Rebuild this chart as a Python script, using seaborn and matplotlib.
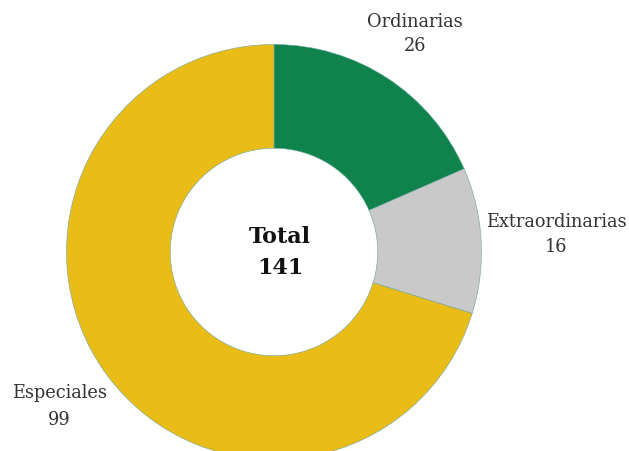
import matplotlib
matplotlib.use("Agg")
import matplotlib.pyplot as plt
import seaborn as sns

categories = ["Ordinarias", "Extraordinarias", "Especiales"]
values = [26, 16, 99]
colors = ["#0f834b", "#c9c9c9", "#e9bc18"]
total_label = "Total"

sns.set_theme(style="white")
plt.rcParams["font.family"] = ["DejaVu Serif"]

fig = plt.figure(figsize=(6.29, 4.52), dpi=100)
ax = fig.add_axes([0, 0, 1, 1])

wedges, _ = ax.pie(
    values,
    colors=colors,
    startangle=90,
    counterclock=False,
    radius=1.0,
    wedgeprops=dict(width=0.5, edgecolor="#6aa6a0", linewidth=0.4),
)

ax.set_xlim(-1.3205, 1.711)
ax.set_ylim(-0.959, 1.219)
ax.set_aspect("auto")
ax.axis("off")

total = sum(values)
ax.text(0.029, 0.077, total_label, ha="center", va="center",
        fontsize=16, fontweight="bold", color="#111111")
ax.text(0.029, -0.072, str(total), ha="center", va="center",
        fontsize=16, fontweight="bold", color="#111111")

# (x, y of name line, y of value line)
label_pos = [(0.680, 1.113, 0.995), (1.360, 0.149, 0.031), (-1.034, -0.675, -0.803)]
for name, val, (lx, ly1, ly2) in zip(categories, values, label_pos):
    ax.text(lx, ly1, name, ha="center", va="center", fontsize=12.8, color="#333333")
    ax.text(lx, ly2, str(val), ha="center", va="center", fontsize=12.8, color="#333333")

fig.savefig("out.png", dpi=100)
